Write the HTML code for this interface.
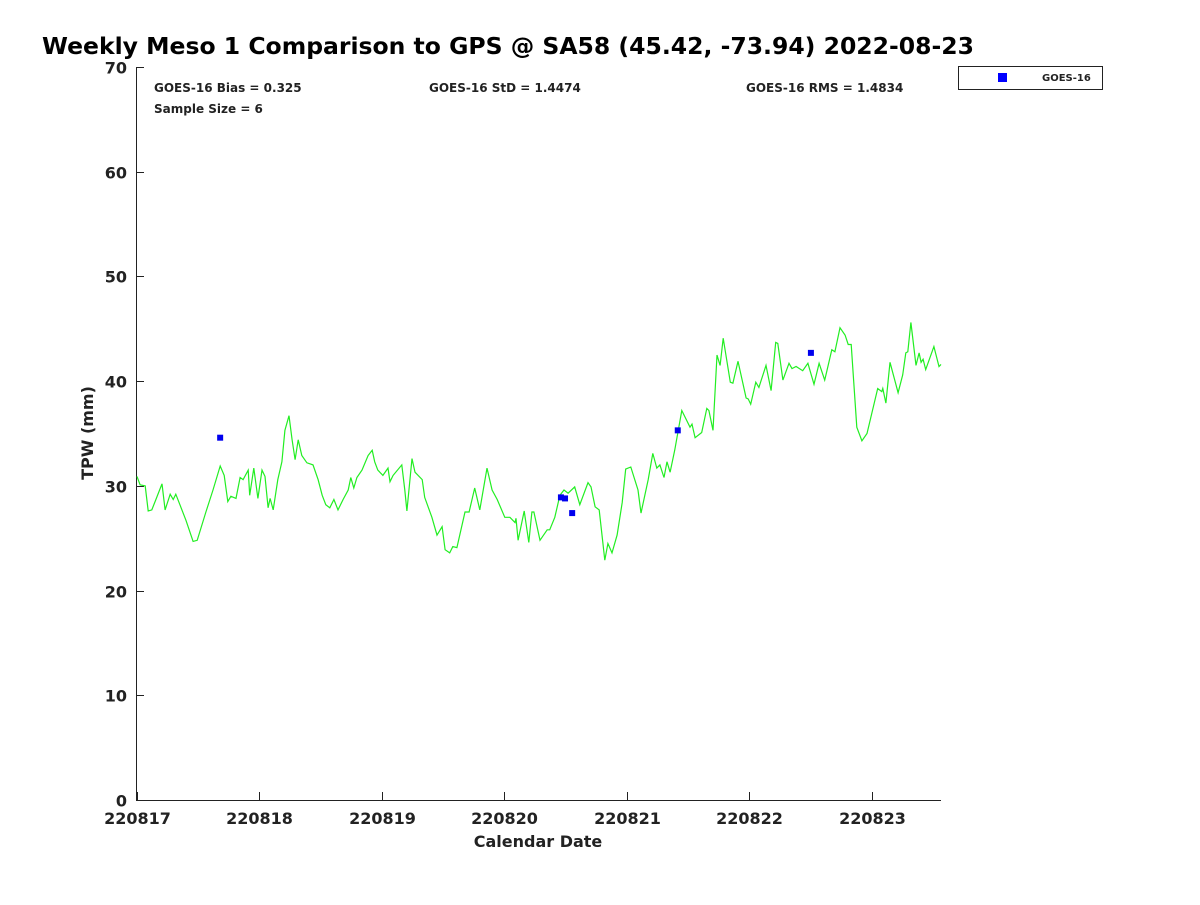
<!DOCTYPE html>
<html><head><meta charset="utf-8"><style>
body{margin:0;background:#fff;}
svg text{font-family:"DejaVu Sans","Liberation Sans",sans-serif;font-weight:bold;fill:#222;}
</style></head><body>
<svg id="chart" width="1200" height="900" xmlns="http://www.w3.org/2000/svg">
<rect width="1200" height="900" fill="#fff"/>
<text x="42" y="54" font-size="23.5" fill="#000" style="fill:#000">Weekly Meso 1 Comparison to GPS @ SA58 (45.42, -73.94) 2022-08-23</text>
<g id="axes"></g>
<g id="series"></g>
<text x="154" y="92" font-size="12">GOES-16 Bias = 0.325</text>
<text x="154" y="113" font-size="12">Sample Size = 6</text>
<text x="429" y="92" font-size="12">GOES-16 StD = 1.4474</text>
<text x="746" y="92" font-size="12">GOES-16 RMS = 1.4834</text>
<g>
<rect x="958.5" y="66.5" width="144" height="23" fill="#fff" stroke="#222" stroke-width="1"/>
<rect x="998" y="73" width="9" height="9" fill="#0000ff"/>
<text x="1042" y="81" font-size="10">GOES-16</text>
</g>
<text x="538" y="847" font-size="16" text-anchor="middle">Calendar Date</text>
<text transform="translate(93,433) rotate(-90)" font-size="16" text-anchor="middle">TPW (mm)</text>
</svg>
<script>
const xTickLabels=["220817","220818","220819","220820","220821","220822","220823"];
const yTicks=[0,10,20,30,40,50,60,70];
const gpsHours=[0,0.6,1.6,2.2,2.9,3.7,4.9,5.5,6.5,7.1,7.6,8.4,9.6,11.0,11.8,13.5,14.9,16.3,17.1,17.8,18.4,19.4,20.2,20.8,21.8,22.1,22.9,23.7,24.5,25.1,25.7,26.1,26.7,27.6,28.4,29.0,29.8,30.4,31.0,31.6,32.3,33.3,34.5,35.5,36.3,37.0,37.8,38.6,39.4,40.4,41.4,41.9,42.5,43.1,44.1,45.3,46.1,46.6,47.2,48.2,49.2,49.6,50.2,51.9,52.5,52.9,53.9,54.5,55.9,56.4,57.8,58.8,59.8,60.4,61.3,61.9,62.7,64.3,65.1,66.2,67.2,68.6,69.6,70.6,72.1,73.1,74.1,74.3,74.7,75.9,76.8,77.4,77.8,79.0,80.4,80.9,81.9,82.9,83.7,84.5,85.8,86.8,88.4,89.0,89.8,90.6,91.7,92.3,93.1,94.1,95.1,95.8,96.8,98.2,98.8,100.2,101.1,101.9,102.5,103.3,103.9,104.5,105.4,106.8,108.4,108.8,109.4,110.7,111.7,112.1,112.9,113.7,114.3,114.9,116.3,116.8,117.8,119.4,119.8,120.3,121.3,121.9,123.3,124.3,125.2,125.6,126.6,127.8,128.4,129.2,130.5,131.5,132.7,133.7,134.8,135.2,136.2,136.8,137.8,138.8,139.4,140.0,141.1,142.1,143.1,145.2,146.0,146.2,146.8,147.6,149.2,150.1,150.7,151.1,151.7,152.7,153.3,153.7,154.1,154.6,156.2,157.2,157.6];
const gpsValues=[30.9,30.1,30.0,27.6,27.7,28.7,30.2,27.7,29.2,28.7,29.2,28.2,26.7,24.7,24.8,27.5,29.6,31.9,31.0,28.5,29.0,28.8,30.8,30.6,31.5,29.1,31.7,28.8,31.5,30.9,27.9,28.8,27.7,30.6,32.3,35.3,36.7,34.4,32.5,34.4,32.9,32.2,32.0,30.6,29.1,28.2,27.9,28.7,27.7,28.7,29.6,30.8,29.8,30.8,31.5,32.9,33.4,32.3,31.5,31.0,31.7,30.4,31.0,32.0,29.6,27.6,32.6,31.3,30.6,28.9,27.0,25.3,26.1,23.9,23.6,24.2,24.1,27.5,27.5,29.8,27.7,31.7,29.6,28.7,27.0,27.0,26.5,26.9,24.8,27.6,24.6,27.5,27.5,24.8,25.8,25.8,27.0,29.1,29.6,29.3,29.9,28.2,30.3,29.9,28.0,27.7,22.9,24.5,23.6,25.3,28.4,31.6,31.8,29.6,27.4,30.6,33.1,31.7,32.0,30.8,32.3,31.3,33.4,37.2,35.6,35.9,34.6,35.1,37.4,37.2,35.3,42.5,41.5,44.1,39.9,39.8,41.9,38.4,38.3,37.8,39.9,39.4,41.5,39.1,43.7,43.6,40.1,41.7,41.2,41.4,41.0,41.7,39.7,41.7,40.1,40.9,43.0,42.8,45.1,44.4,43.5,43.5,35.6,34.3,35.0,39.3,39.0,39.3,37.9,41.8,38.9,40.6,42.7,42.8,45.6,41.5,42.7,41.8,42.1,41.1,43.3,41.4,41.6];
const goesHours=[16.3,83.1,83.9,85.3,106.0,132.1];
const goesValues=[34.6,28.9,28.8,27.4,35.3,42.7];
const NS="http://www.w3.org/2000/svg";
const X0=137,X1=941,Y0=800,Y1=67,HMAX=157.6,VMAX=70;
function xs(h){return X0+(X1-X0)*h/HMAX;}
function ys(v){return Y0-(Y0-Y1)*v/VMAX;}
function mk(tag,attrs,parent){const e=document.createElementNS(NS,tag);for(const k in attrs)e.setAttribute(k,attrs[k]);parent.appendChild(e);return e;}
const axes=document.getElementById('axes'),series=document.getElementById('series');
const yAxis=mk('line',{x1:136.5,y1:Y1,x2:136.5,y2:Y0+0.5,stroke:'#222','stroke-width':1},axes);


const xAxis=mk('line',{x1:136,y1:Y0+0.5,x2:X1,y2:Y0+0.5,stroke:'#222','stroke-width':1},axes);


yTicks.forEach(v=>{const y=Math.round(ys(v))+0.5;
const t=mk('line',{x1:136,y1:y,x2:144,y2:y,stroke:'#222'},axes);


const l=mk('text',{x:127,y:y+6,'font-size':16,'text-anchor':'end'},axes);l.textContent=v;

});
xTickLabels.forEach((s,i)=>{const x=Math.round(xs(i*24))+0.5;
const t=mk('line',{x1:x,y1:Y0,x2:x,y2:Y0-8,stroke:'#222'},axes);


const l=mk('text',{x:x,y:824,'font-size':16,'text-anchor':'middle'},axes);l.textContent=s;

});
const pts=gpsHours.map((h,i)=>xs(h).toFixed(1)+','+ys(gpsValues[i]).toFixed(1)).join(' ');
const line=mk('polyline',{points:pts,fill:'none',stroke:'#22ee22','stroke-width':1.2},series);


goesHours.forEach((h,i)=>{const r=mk('rect',{x:xs(h)-3,y:ys(goesValues[i])-3,width:6,height:6,fill:'#0000ee'},series);

});
</script>
</body></html>
